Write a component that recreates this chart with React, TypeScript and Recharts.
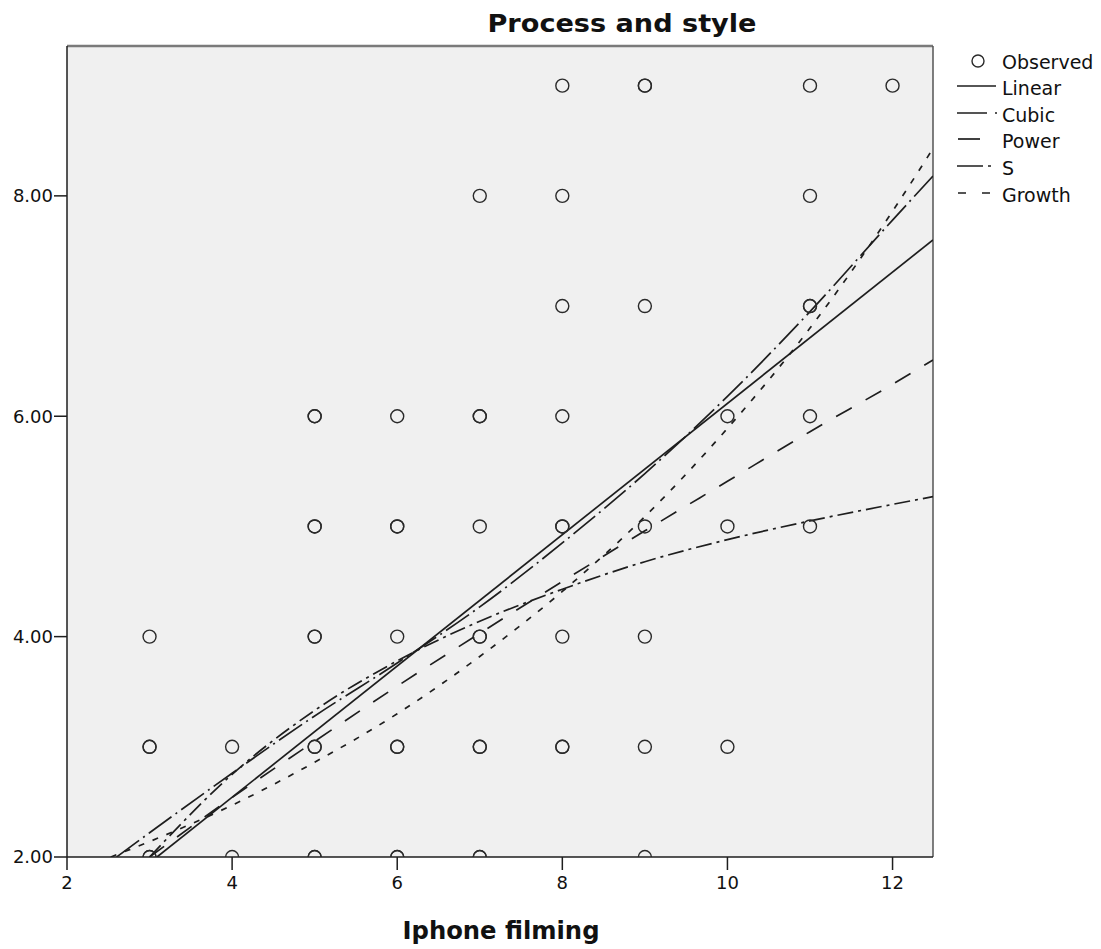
import React from 'react';
import { ComposedChart, Scatter, Line, XAxis, YAxis, CartesianGrid, ReferenceLine } from 'recharts';

// Observed cases (repeated pairs are the circles drawn darker in the source)
const observedX = [
  3, 3, 3, 3, 3,
  4, 4,
  5, 5, 5, 5, 5, 5, 5, 5, 5, 5,
  6, 6, 6, 6, 6, 6, 6, 6,
  7, 7, 7, 7, 7, 7, 7, 7, 7, 7,
  8, 8, 8, 8, 8, 8, 8, 8, 8,
  9, 9, 9, 9, 9, 9, 9,
  10, 10, 10,
  11, 11, 11, 11, 11, 11,
  12,
];
const observedY = [
  4, 3, 3, 2, 2,
  3, 2,
  6, 6, 5, 5, 4, 4, 3, 3, 2, 2,
  6, 5, 5, 4, 3, 3, 2, 2,
  8, 6, 6, 5, 4, 4, 3, 3, 2, 2,
  9, 8, 7, 6, 5, 5, 4, 3, 3,
  9, 9, 7, 5, 4, 3, 2,
  6, 5, 3,
  9, 8, 7, 7, 6, 5,
  9,
];

// Fitted curves, values
const linearX = [3.09, 12.49];
const linearY = [2.0, 7.6];

const cubicX = [2.6, 3, 4, 5, 6, 7, 8, 9, 10, 11, 12, 12.49];
const cubicY = [2.0, 2.22, 2.76, 3.28, 3.76, 4.27, 4.85, 5.48, 6.18, 6.95, 7.78, 8.18];

const powerX = [3, 4, 5, 6, 7, 8, 9, 10, 11, 12, 12.49];
const powerY = [2.0, 2.54, 3.05, 3.55, 4.03, 4.5, 4.96, 5.41, 5.86, 6.29, 6.51];

const sCurveX = [3, 4, 5, 6, 7, 8, 9, 10, 11, 12, 12.49];
const sCurveY = [2.0, 2.75, 3.33, 3.78, 4.14, 4.43, 4.68, 4.88, 5.05, 5.2, 5.27];

const growthX = [2.53, 3, 4, 5, 6, 7, 8, 9, 10, 11, 12, 12.49];
const growthY = [2.0, 2.14, 2.47, 2.86, 3.3, 3.82, 4.41, 5.09, 5.89, 6.8, 7.86, 8.43];

const xTicks = [2, 4, 6, 8, 10, 12];
const yTicks = [2, 4, 6, 8];

const zip = (xs: number[], ys: number[]) => xs.map((x, i) => ({ x, y: ys[i] }));

const observed = zip(observedX, observedY);
const linear = zip(linearX, linearY);
const cubic = zip(cubicX, cubicY);
const power = zip(powerX, powerY);
const sCurve = zip(sCurveX, sCurveY);
const growth = zip(growthX, growthY);

const INK = '#1e1e1e';
const FONT = '"DejaVu Sans", sans-serif';

const ring = (p: any) => (
  <circle cx={p.cx} cy={p.cy} r={6.5} fill="none" stroke="#2a2a2a" strokeWidth={1.4} />
);

const legendRows = [
  { name: 'Observed', y: 62 },
  { name: 'Linear', y: 88, dash: undefined, x1: 957, x2: 996 },
  { name: 'Cubic', y: 115, dash: '30 8 2 10', x1: 957, x2: 998 },
  { name: 'Power', y: 141, dash: '22 100', x1: 958, x2: 990 },
  { name: 'S', y: 168, dash: '26 5 3 10', x1: 957, x2: 992 },
  { name: 'Growth', y: 195, dash: '8 16', x1: 958, x2: 992 },
];

export default function App() {
  return (
    <div style={{ position: 'absolute', left: 0, top: 0, width: 1101, height: 949 }}>
      <ComposedChart
        width={1101}
        height={949}
        margin={{ top: 46, right: 168, bottom: 62, left: 0 }}
      >
        <CartesianGrid fill="#f0f0f0" horizontal={false} vertical={false} />
        <XAxis
          type="number"
          dataKey="x"
          domain={[2, 12.49]}
          ticks={xTicks}
          allowDataOverflow
          height={30}
          tickSize={13}
          tickMargin={6}
          axisLine={{ stroke: INK, strokeWidth: 1.5 }}
          tickLine={{ stroke: INK, strokeWidth: 1.5 }}
          tick={{ fill: '#111', fontSize: 18, fontFamily: FONT }}
        />
        <YAxis
          type="number"
          dataKey="y"
          domain={[2, 9.36]}
          ticks={yTicks}
          allowDataOverflow
          width={67}
          tickSize={13}
          tickMargin={1}
          tickFormatter={(v: number) => v.toFixed(2)}
          axisLine={{ stroke: INK, strokeWidth: 1.5 }}
          tickLine={{ stroke: INK, strokeWidth: 1.5 }}
          tick={{ fill: '#111', fontSize: 18, fontFamily: FONT }}
        />
        <ReferenceLine y={9.36} stroke="#7a7a7a" strokeWidth={2.5} ifOverflow="visible" />
        <ReferenceLine x={12.49} stroke="#555" strokeWidth={1.5} ifOverflow="visible" />

        <Scatter data={observed} shape={ring} isAnimationActive={false} />

        <Line data={linear} dataKey="y" type="linear" stroke={INK} strokeWidth={1.7}
          dot={false} activeDot={false} isAnimationActive={false} />
        <Line data={cubic} dataKey="y" type="monotone" stroke={INK} strokeWidth={1.7}
          strokeDasharray="28 5 2 5" dot={false} activeDot={false} isAnimationActive={false} />
        <Line data={power} dataKey="y" type="monotone" stroke={INK} strokeWidth={1.7}
          strokeDasharray="18 16" dot={false} activeDot={false} isAnimationActive={false} />
        <Line data={sCurve} dataKey="y" type="monotone" stroke={INK} strokeWidth={1.7}
          strokeDasharray="16 5 3 5" dot={false} activeDot={false} isAnimationActive={false} />
        <Line data={growth} dataKey="y" type="monotone" stroke={INK} strokeWidth={1.7}
          strokeDasharray="6 9" dot={false} activeDot={false} isAnimationActive={false} />
      </ComposedChart>

      <svg
        width={1101}
        height={949}
        style={{ position: 'absolute', left: 0, top: 0, pointerEvents: 'none' }}
      >
        <text x={622} y={32} textAnchor="middle" fontFamily={FONT} fontWeight="bold"
          fontSize={25} fill="#111" textLength={269} lengthAdjust="spacingAndGlyphs">
          Process and style
        </text>
        <text x={501} y={939} textAnchor="middle" fontFamily={FONT} fontWeight="bold"
          fontSize={24} fill="#111" textLength={197} lengthAdjust="spacingAndGlyphs">
          Iphone filming
        </text>
        {legendRows.map((r) => (
          <g key={r.name}>
            {r.name === 'Observed' ? (
              <circle cx={978} cy={r.y - 1} r={6} fill="none" stroke="#2a2a2a" strokeWidth={1.4} />
            ) : (
              <line x1={r.x1} x2={r.x2} y1={r.y - 2} y2={r.y - 2} stroke={INK}
                strokeWidth={1.7} strokeDasharray={r.dash} />
            )}
            <text x={1002} y={r.y + 7} fontFamily={FONT} fontSize={19} fill="#111">
              {r.name}
            </text>
          </g>
        ))}
      </svg>
    </div>
  );
}
